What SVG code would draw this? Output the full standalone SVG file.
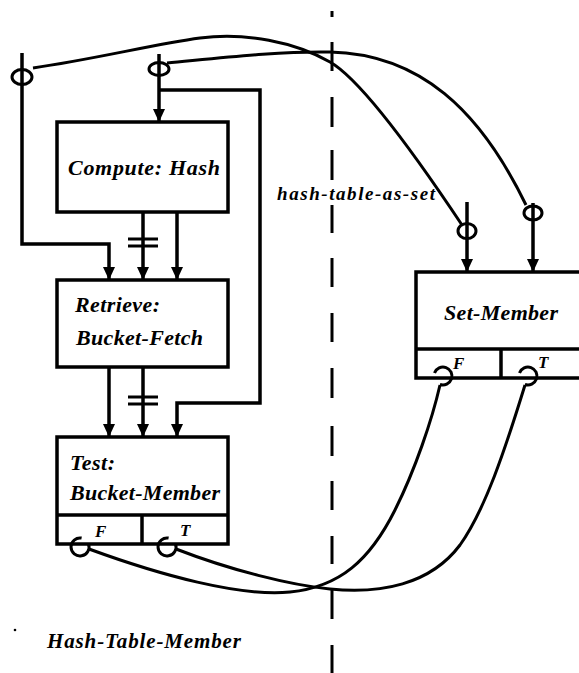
<svg xmlns="http://www.w3.org/2000/svg" width="579" height="673" viewBox="0 0 579 673">
<defs>
<marker id="ah" viewBox="0 0 13 12" refX="13" refY="6" markerWidth="13" markerHeight="12" markerUnits="userSpaceOnUse" orient="auto"><path d="M0,0 L13,6 L0,12 z" fill="#000"/></marker>
</defs>
<style>
.box{fill:none;stroke:#000;stroke-width:3.5}
.w{fill:none;stroke:#000;stroke-width:3.5}
.c{fill:none;stroke:#000;stroke-width:3}
.t{font-family:"Liberation Serif","DejaVu Serif",serif;font-weight:bold;font-style:italic;font-size:22px;fill:#000}
.s{font-size:17px}
.m{font-size:19px}
.h{font-size:21px}
.dash{stroke:#000;stroke-width:3}
</style>
<rect width="579" height="673" fill="#fff"/>

<g id="divider" class="dash">
<line x1="332" y1="11" x2="332" y2="17"/>
<line x1="332" y1="42" x2="332" y2="71"/>
<line x1="332" y1="97" x2="332" y2="127"/>
<line x1="332" y1="150" x2="332" y2="180"/>
<line x1="332" y1="205" x2="332" y2="233"/>
<line x1="332" y1="258" x2="332" y2="287"/>
<line x1="332" y1="313" x2="332" y2="342"/>
<line x1="332" y1="368" x2="332" y2="398"/>
<line x1="332" y1="426" x2="332" y2="456"/>
<line x1="332" y1="481" x2="332" y2="510"/>
<line x1="332" y1="536" x2="332" y2="564"/>
<line x1="332" y1="590" x2="332" y2="619"/>
<line x1="332" y1="645" x2="332" y2="673"/>
</g>

<g id="compute">
<rect class="box" x="57" y="122" width="171" height="90"/>
<text class="t" x="68" y="175" textLength="152">Compute: Hash</text>
</g>

<g id="retrieve">
<rect class="box" x="57" y="280" width="171" height="87"/>
<text class="t" x="75" y="312" textLength="85">Retrieve:</text>
<text class="t" x="76" y="345" textLength="127">Bucket-Fetch</text>
</g>

<g id="test">
<rect class="box" x="57" y="437" width="171" height="107"/>
<line class="box" x1="57" y1="515" x2="228" y2="515"/>
<line class="box" x1="142" y1="515" x2="142" y2="544"/>
<text class="t" x="70" y="470" textLength="45">Test:</text>
<text class="t" x="70" y="500" textLength="150">Bucket-Member</text>
<text class="t s" x="95" y="537">F</text>
<text class="t s" x="180" y="536">T</text>
<path class="c" d="M88.5,543.9 A9,9 0 1,1 81.6,538.1"/>
<path class="c" d="M175.5,543.9 A9,9 0 1,1 168.6,538.1"/>
</g>

<g id="set-member">
<path class="box" d="M585,272 H416 V378 H585"/>
<line class="box" x1="416" y1="349" x2="585" y2="349"/>
<line class="box" x1="501" y1="349" x2="501" y2="378"/>
<text class="t" x="444" y="320" textLength="114">Set-Member</text>
<text class="t s" x="453" y="369">F</text>
<text class="t s" x="538" y="368">T</text>
<path class="c" d="M434.5,372.9 A9,9 0 1,1 439.9,384.5"/>
<path class="c" d="M519.5,372.9 A9,9 0 1,1 524.9,384.5"/>
</g>

<g id="labels">
<text class="t m" x="277" y="200" textLength="158">hash-table-as-set</text>
<text class="t h" x="47" y="648" textLength="194">Hash-Table-Member</text>
<circle cx="15" cy="630" r="1.3" fill="#000"/>
</g>

<g id="connectors">
<path class="w" d="M22,53 V244 H109 V280" marker-end="url(#ah)"/>
<ellipse class="c" cx="22" cy="77" rx="10" ry="7.5"/>
<path class="w" d="M159,54 V122" marker-end="url(#ah)"/>
<ellipse class="c" cx="159" cy="69" rx="10" ry="6.5"/>
<path class="w" d="M159,90 H260 V403 H177 V437" marker-end="url(#ah)"/>
<path class="w" d="M143,212 V280" marker-end="url(#ah)"/>
<path class="w" d="M177,212 V280" marker-end="url(#ah)"/>
<path class="w" d="M109,367 V437" marker-end="url(#ah)"/>
<path class="w" d="M143,367 V437" marker-end="url(#ah)"/>
<path class="c" d="M128,239 H158 M128,246 H158 M128,397 H158 M128,404 H158"/>
<path class="c" d="M33,68 C95,59 155,44 200,38 C245,32 295,42 330,62 C365,82 432,180 462,225"/>
<path class="c" d="M167,63 C220,58 280,51 330,52 C420,54 480,110 526,205"/>
<path class="w" d="M467,202 V272" marker-end="url(#ah)"/>
<ellipse class="c" cx="467" cy="231" rx="9" ry="7.5"/>
<path class="w" d="M533,203 V272" marker-end="url(#ah)"/>
<ellipse class="c" cx="533" cy="213" rx="9" ry="7"/>
<path class="c" d="M89,549 C160,575 240,597 290,592 C340,587 370,560 395,510 C415,470 432,420 440,385"/>
<path class="c" d="M176,549 C230,570 290,585 330,589 C380,594 430,585 460,545 C485,510 505,450 525,385"/>
</g>
</svg>
